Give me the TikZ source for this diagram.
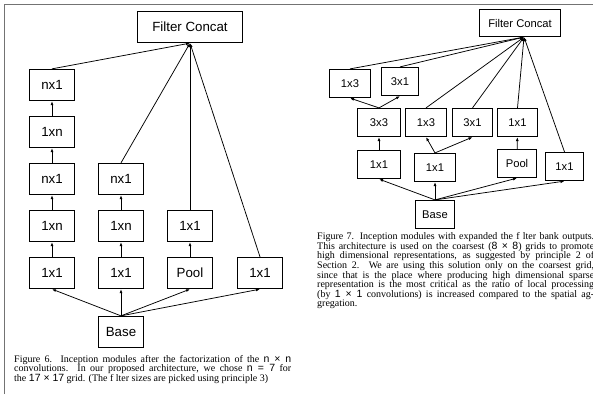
\documentclass[tikz,border=0pt]{standalone}
\usepackage{fontspec}
\setmainfont{Liberation Serif}
\newfontfamily\boxfont{Liberation Sans}
\usetikzlibrary{arrows.meta}
\newcommand{\mth}[1]{{\boxfont\fontsize{10.5}{9.6}\selectfont #1}}
\begin{document}
\begin{tikzpicture}[x=1pt,y=-1pt,
  bx/.style={draw, line width=1.3pt, inner sep=0pt, font=\boxfont\fontsize{13.3}{14}\selectfont, minimum width=45pt, minimum height=31pt},
  sbx/.style={draw, line width=1.2pt, inner sep=0pt, font=\boxfont\fontsize{11.2}{12}\selectfont, minimum width=41pt, minimum height=28pt},
  ar/.style={line width=0.75pt, -{Latex[length=4pt,width=3pt]}},
  captext/.style={anchor=north west, inner sep=0pt, text width=277pt, align=justify, font=\fontsize{10}{9.6}\selectfont},
  frameline/.style={black!55, line width=1pt}
]
\useasboundingbox (0,0) rectangle (593,394);
\draw[frameline] (4,394) -- (4,4) -- (593,4);

% ---------- left diagram ----------
\node[bx, minimum width=105pt] (fcL) at (190,27) {Filter Concat};
\node[bx] (l11) at (52,85) {nx1};
\node[bx] (l12) at (52,132) {1xn};
\node[bx] (l13) at (52,179) {nx1};
\node[bx] (l14) at (52,226) {1xn};
\node[bx] (l15) at (52,273) {1x1};
\node[bx] (l23) at (121,179) {nx1};
\node[bx] (l24) at (121,226) {1xn};
\node[bx] (l25) at (121,273) {1x1};
\node[bx] (l34) at (190,226) {1x1};
\node[bx] (l35) at (190,273) {Pool};
\node[bx] (l45) at (260,273) {1x1};
\node[bx] (baseL) at (121,332) {Base};

\draw[ar] (baseL.north) -- (l15.south);
\draw[ar] (baseL.north) -- (l25.south);
\draw[ar] (baseL.north) -- (l35.south);
\draw[ar] (baseL.north) -- (l45.south);
\draw[ar] (l15) -- (l14);
\draw[ar] (l14) -- (l13);
\draw[ar] (l13) -- (l12);
\draw[ar] (l12) -- (l11);
\draw[ar] (l25) -- (l24);
\draw[ar] (l24) -- (l23);
\draw[ar] (l35) -- (l34);
\draw[ar] (l11.north) -- (fcL.south);
\draw[ar] (l23.north) -- (fcL.south);
\draw[ar] (l34.north) -- (fcL.south);
\draw[ar] (l45.north) -- (fcL.south);

% ---------- right diagram ----------
\node[sbx, minimum width=81pt, minimum height=27pt] (fcR) at (520,23) {Filter Concat};
\coordinate (fcRin) at ([xshift=4pt]fcR.south);
\node[sbx] (r1) at (350,83.5) {1x3};
\node[sbx, minimum width=37pt] (r2) at (400,81.5) {3x1};
\node[sbx, minimum width=43pt] (m1) at (379,122.5) {3x3};
\node[sbx] (m2) at (426,122.5) {1x3};
\node[sbx, minimum width=40pt] (m3) at (472.5,122.5) {3x1};
\node[sbx, minimum width=40pt] (m4) at (517.5,122.5) {1x1};
\node[sbx, minimum width=43pt] (b1) at (379,164.5) {1x1};
\node[sbx] (b2) at (435,167.5) {1x1};
\node[sbx, minimum width=39pt] (b3) at (517,163.5) {Pool};
\node[sbx, minimum width=38pt] (b4) at (564.5,166.5) {1x1};
\node[sbx, minimum width=39pt] (baseR) at (435,214.5) {Base};

\draw[ar] (baseR.north) -- (b1.south);
\draw[ar] (baseR.north) -- (b2.south);
\draw[ar] (baseR.north) -- (b3.south);
\draw[ar] (baseR.north) -- (b4.south);
\draw[ar] (b1) -- (m1);
\draw[ar] (m1.north) -- (r1.south);
\draw[ar] (m1.north) -- (r2.south);
\draw[ar] (b2.north) -- (m2.south);
\draw[ar] (b2.north) -- (m3.south);
\draw[ar] (b3) -- (m4);
\draw[ar] (r1.north) -- (fcRin);
\draw[ar] (r2.north) -- (fcRin);
\draw[ar] (m2.north) -- (fcRin);
\draw[ar] (m3.north) -- (fcRin);
\draw[ar] (m4.north) -- (fcRin);
\draw[ar] (b4.north) -- (fcRin);

% ---------- captions ----------
\node[captext] (cap6) at (14,355) {Figure 6. Inception modules after the factorization of the \mth{n × n}\linebreak
convolutions.  In our proposed architecture, we chose \mth{n = 7} for\linebreak
the \mth{17 × 17} grid. (The f lter sizes are picked using principle 3)};

\node[captext] (cap7) at (317,232.5) {Figure 7. Inception modules with expanded the f lter bank outputs.\linebreak
This architecture is used on the coarsest (\mth{8 × 8}) grids to promote\linebreak
high dimensional representations, as suggested by principle 2 of\linebreak
Section 2.  We are using this solution only on the coarsest grid,\linebreak
since that is the place where producing high dimensional sparse\linebreak
representation is the most critical as the ratio of local processing\linebreak
(by \mth{1 × 1} convolutions) is increased compared to the spatial ag-\linebreak
gregation.};
\end{tikzpicture}
\end{document}
